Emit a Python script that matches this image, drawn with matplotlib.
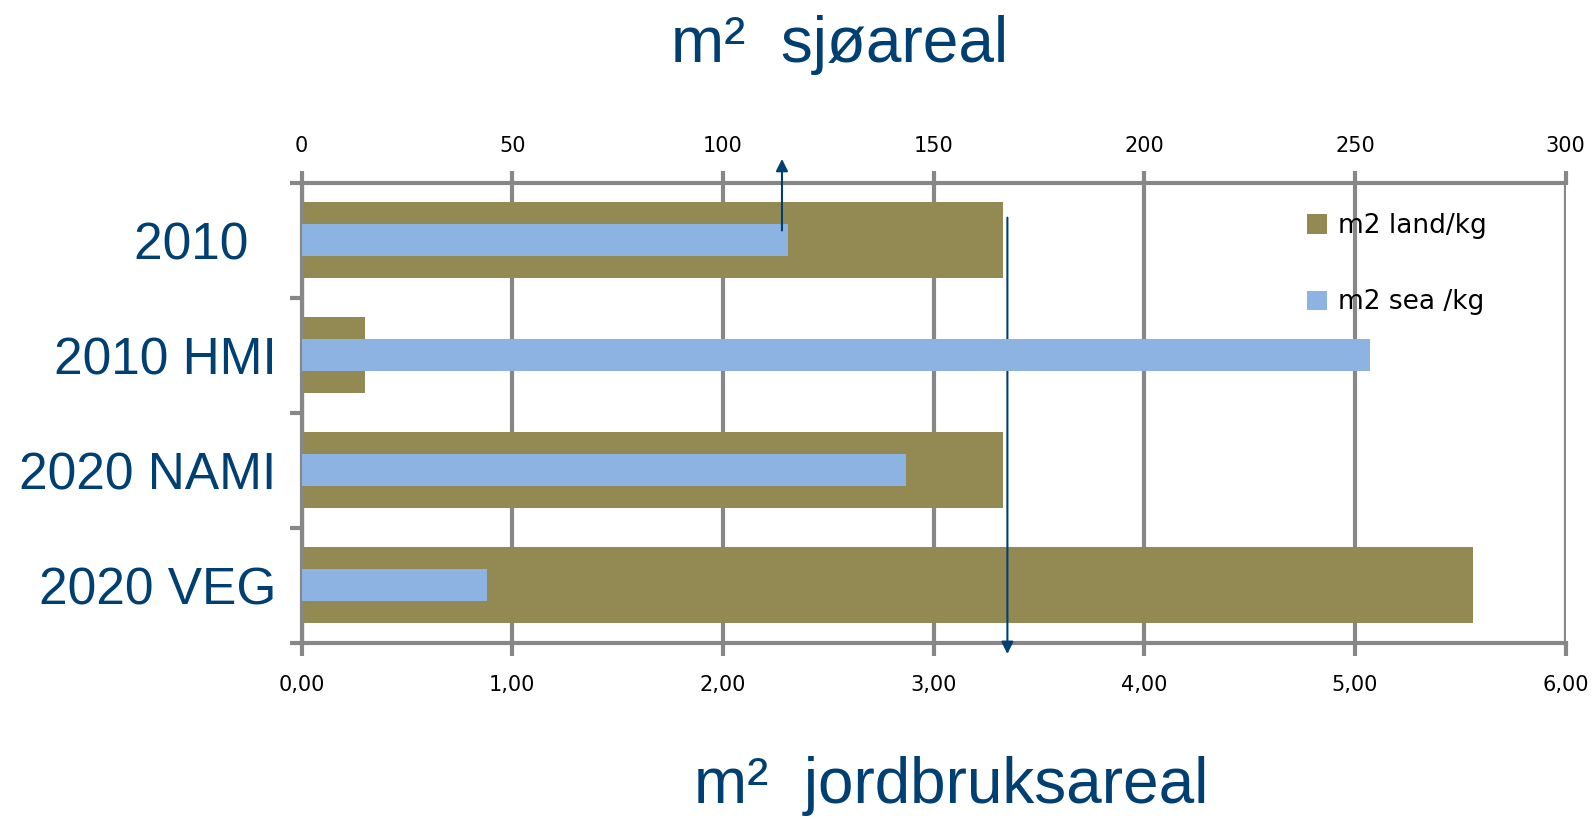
import matplotlib
matplotlib.use("Agg")
import numpy as np
from matplotlib import pyplot as plt

categories = ["2010  ", "2010 HMI", "2020 NAMI", "2020 VEG"]
land = [3.33, 0.30, 3.33, 5.56]        # m2 land/kg  (bottom axis)
sea = [115.5, 253.5, 143.5, 44.0]      # m2 sea /kg  (top axis)
land_ticks = [0, 1, 2, 3, 4, 5, 6]
land_ticklabels = ["0,00", "1,00", "2,00", "3,00", "4,00", "5,00", "6,00"]
sea_ticks = [0, 50, 100, 150, 200, 250, 300]

olive = "#938953"
blue = "#8db3e2"
grey = "#878787"
navy = "#003f72"

fig = plt.figure(figsize=(15.96, 8.19), dpi=100)
ax = fig.add_axes([0.189, 0.215, 0.792, 0.562])
y = np.arange(len(categories))

ax.barh(y, land, height=0.66, color=olive, label="m2 land/kg", zorder=2)
ax.set_xlim(0, 6)
ax.set_ylim(3.5, -0.5)
ax.set_xticks(land_ticks)
ax.set_xticklabels(land_ticklabels, fontsize=15, family="DejaVu Sans Condensed")
ax.set_yticks(y)
ax.set_yticklabels(categories, fontsize=37, color=navy, family="Liberation Sans")
ax.set_yticks(np.arange(-0.5, 4, 1), minor=True)
ax.tick_params(axis="y", which="major", length=0, pad=18)
ax.tick_params(axis="y", which="minor", length=9, width=3, color=grey, direction="out")
ax.tick_params(axis="x", length=9, width=3, color=grey, pad=14)
ax.grid(axis="x", color=grey, linewidth=3)
ax.set_axisbelow(True)
for s in ["top", "right"]:
    ax.spines[s].set_visible(False)
ax.spines["bottom"].set_color(grey)
ax.spines["bottom"].set_linewidth(3)
ax.spines["left"].set_color(grey)
ax.spines["left"].set_linewidth(3)

ax2 = ax.twiny()
ax2.barh(y, sea, height=0.28, color=blue, label="m2 sea /kg", zorder=3)
ax2.set_xlim(0, 300)
ax2.set_xticks(sea_ticks)
ax2.set_xticklabels([str(t) for t in sea_ticks], fontsize=15, family="DejaVu Sans Condensed")
ax2.tick_params(axis="x", length=9, width=3, color=grey, pad=10)
ax2.patch.set_visible(False)
for s in ["bottom", "left", "right"]:
    ax2.spines[s].set_visible(False)
ax2.spines["top"].set_color(grey)
ax2.spines["top"].set_linewidth(3)

# arrows
ax2.annotate("", xy=(114, -0.73), xytext=(114, -0.06), annotation_clip=False,
             arrowprops=dict(arrowstyle="-|>", color=navy, lw=1.5, mutation_scale=18))
ax.annotate("", xy=(3.35, 3.62), xytext=(3.35, -0.22), annotation_clip=False,
            arrowprops=dict(arrowstyle="-|>", color=navy, lw=1.5, mutation_scale=18))

h1, l1 = ax.get_legend_handles_labels()
h2, l2 = ax2.get_legend_handles_labels()
leg = ax2.legend(h1 + h2, l1 + l2, loc="upper right", bbox_to_anchor=(0.956, 0.985),
                 frameon=False, labelspacing=1.9, handlelength=0.75,
                 handleheight=0.75, handletextpad=0.4,
                 prop={"family": "DejaVu Sans Condensed", "size": 19})

fig.text(0.526, 0.945, "m²  sjøareal", ha="center", va="center", fontsize=46,
         color=navy, family="Liberation Sans")
fig.text(0.596, 0.040, "m²  jordbruksareal", ha="center", va="center", fontsize=46,
         color=navy, family="Liberation Sans")

fig.savefig("out.png", dpi=100)
